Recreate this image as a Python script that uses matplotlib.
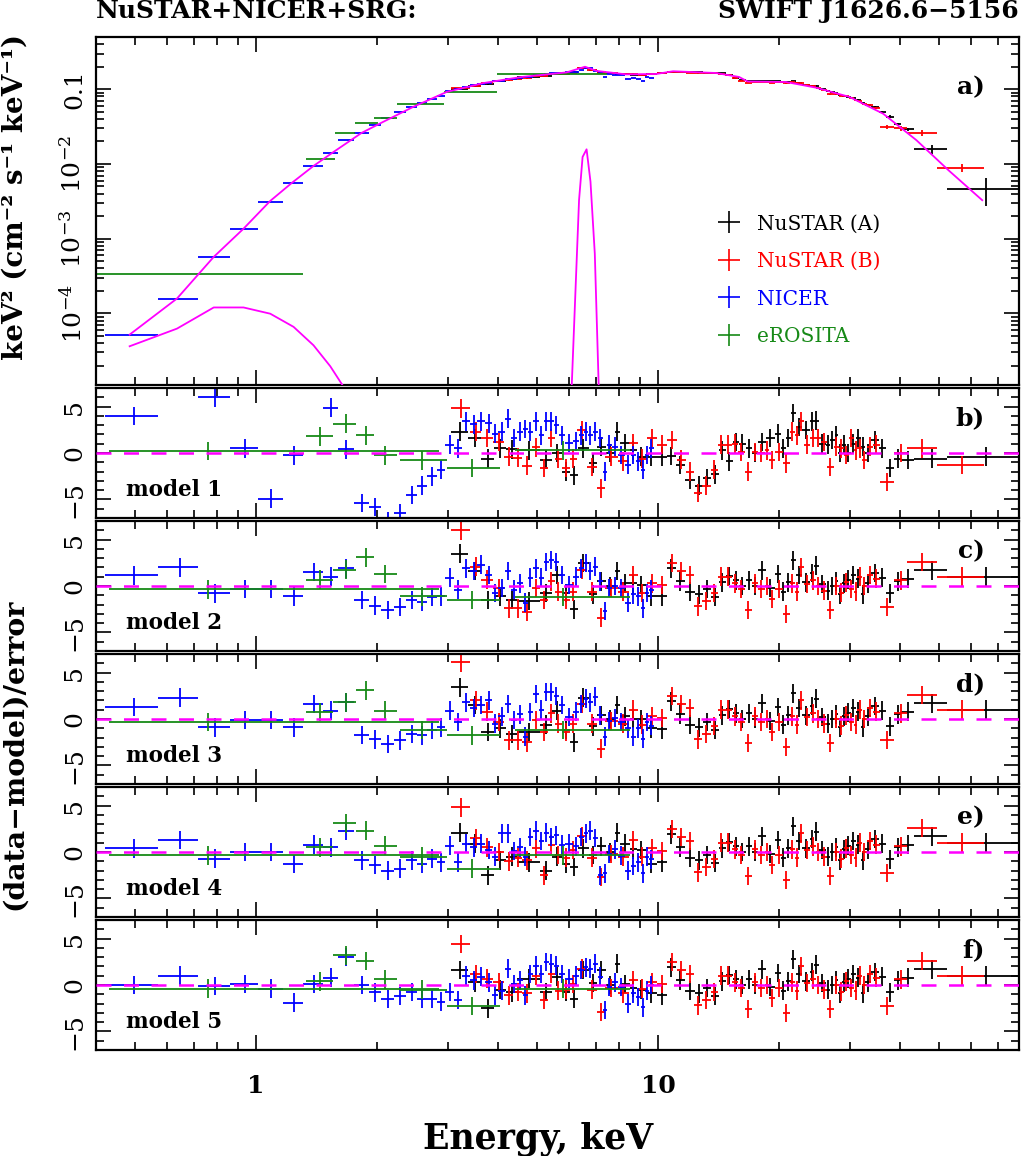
import numpy as np
import matplotlib.pyplot as plt
from matplotlib.lines import Line2D
from matplotlib.ticker import LogLocator, MultipleLocator, NullFormatter, FixedLocator

plt.rcParams['font.family'] = ['DejaVu Serif']
plt.rcParams['mathtext.fontset'] = 'dejavuserif'

# colours of the instruments / model
c_nua = 'black'
c_nub = '#ff0000'
c_nicer = '#0000ff'
c_ero = '#178a17'
c_model = '#ff00ff'

# ------------------------------------------------------------------
# DATA
# ------------------------------------------------------------------

# NICER bin edges (keV)
nicer_edges = [0.422, 0.572, 0.719, 0.863, 1.013, 1.169, 1.311, 1.470, 1.601, 1.755,
               1.912, 2.048, 2.206, 2.362, 2.515, 2.664, 2.821, 2.953, 3.108, 3.254,
               3.407, 3.546, 3.712, 3.863, 3.998, 4.161, 4.307, 4.457, 4.612, 4.746,
               4.885, 5.055, 5.202, 5.352, 5.508, 5.667, 5.866, 6.141, 6.353, 6.538,
               6.689, 6.883, 7.083, 7.291, 7.459, 7.674, 7.943, 8.268, 8.556, 8.804,
               9.058, 9.268, 9.482, 9.757]
# NICER keV^2 flux
nicer_flux = [5.2e-5, 1.58e-4, 5.6e-4, 1.36e-3, 3.07e-3, 5.6e-3, 9.4e-3, 1.42e-2, 2.07e-2, 2.6e-2,
              3.3e-2, 4.13e-2, 4.9e-2, 5.8e-2, 6.5e-2, 7.5e-2, 8.1e-2, 0.095, 0.10, 0.108,
              0.113, 0.118, 0.122, 0.127, 0.13, 0.135, 0.138, 0.142, 0.145, 0.148,
              0.154, 0.155, 0.16, 0.163, 0.165, 0.165, 0.168, 0.172, 0.18, 0.195,
              0.19, 0.178, 0.168, 0.148, 0.16, 0.155, 0.155, 0.138, 0.142, 0.135,
              0.128, 0.148, 0.14]

# NuSTAR FPMA / FPMB bin edges (keV)
nua_edges = [3.055, 3.368, 3.627, 3.907, 4.184, 4.457, 5.084, 5.445, 5.766, 6.036,
             6.318, 6.728, 7.043, 7.416, 7.807, 8.033, 8.505, 8.852, 9.322, 9.93,
             10.51, 11.07, 11.65, 12.34, 12.91, 13.52, 14.15, 14.73, 15.33, 15.87,
             16.51, 17.09, 17.69, 18.52, 19.50, 20.17, 20.76, 21.36, 21.98, 22.75,
             23.81, 24.36, 25.07, 26.09, 26.70, 27.47, 27.95, 28.60, 29.26, 30.11,
             30.98, 31.88, 32.62, 33.76, 35.34, 36.78, 38.72, 40.30, 43.42, 52.44, 78.7]
nub_edges = [3.055, 3.407, 3.627, 3.885, 4.137, 4.356, 4.586, 4.858, 5.084, 5.321,
             5.539, 5.766, 6.036, 6.283, 6.652, 7.043, 7.374, 7.942, 8.458, 8.903,
             9.375, 9.93, 10.51, 11.13, 11.72, 12.27, 12.84, 13.52, 14.07, 14.64,
             15.25, 15.78, 16.42, 17.09, 17.69, 18.41, 18.84, 19.50, 20.40, 21.24,
             21.86, 22.36, 23.01, 23.81, 24.64, 25.36, 26.24, 27.32, 28.11, 28.93,
             29.77, 30.63, 31.33, 32.06, 33.00, 34.15, 35.54, 38.72, 41.48, 49.36, 64.80]

nua_flux = [0.100, 0.110, 0.118, 0.127, 0.135, 0.145, 0.152, 0.158, 0.162, 0.168,
            0.19, 0.18, 0.172, 0.165, 0.162, 0.158, 0.157, 0.157, 0.158, 0.163,
            0.170, 0.172, 0.171, 0.168, 0.167, 0.165, 0.163, 0.155, 0.142, 0.132,
            0.128, 0.127, 0.128, 0.127, 0.127, 0.125, 0.125, 0.128, 0.12, 0.115,
            0.112, 0.11, 0.10, 0.095, 0.092, 0.088, 0.083, 0.081, 0.079, 0.076,
            0.072, 0.066, 0.062, 0.058, 0.05, 0.043, 0.034, 0.029, 0.0158, 0.0046]
nua_ferr = [0.02] * 54 + [0.03, 0.04, 0.05, 0.06, 0.15, 0.4]

nub_flux = [0.103, 0.112, 0.12, 0.128, 0.132, 0.138, 0.142, 0.152, 0.152, 0.16,
            0.158, 0.16, 0.167, 0.19, 0.18, 0.165, 0.163, 0.158, 0.16, 0.156,
            0.16, 0.163, 0.172, 0.17, 0.167, 0.163, 0.163, 0.163, 0.162, 0.155,
            0.143, 0.13, 0.122, 0.126, 0.126, 0.126, 0.123, 0.124, 0.12, 0.126,
            0.122, 0.12, 0.114, 0.11, 0.105, 0.098, 0.085, 0.086, 0.082, 0.08,
            0.077, 0.072, 0.07, 0.064, 0.062, 0.056, 0.031, 0.030, 0.026, 0.0088]
nub_ferr = [0.02] * 56 + [0.06, 0.07, 0.1, 0.12]

# eROSITA (spectrum panel)
ero_lo = [0.38, 1.33, 1.575, 1.765, 1.97, 2.24, 2.93, 3.97]
ero_hi = [1.31, 1.575, 1.765, 2.01, 2.24, 2.93, 3.97, 7.47]
ero_e = [0.758, 1.44, 1.67, 1.88, 2.095, 2.58, 3.45, 5.8]
ero_flux = [3.33e-4, 1.16e-2, 2.63e-2, 3.5e-2, 4.18e-2, 6.3e-2, 0.093, 0.158]
# eROSITA (residual panels)
ero_rlo = [0.43, 1.33, 1.555, 1.77, 1.97, 2.28, 2.98, 4.4]
ero_rhi = [2.85, 1.555, 1.77, 1.97, 2.24, 2.98, 4.04, 8.5]

# total model and two components
model_e = [0.485, 0.636, 0.785, 0.931, 1.085, 1.229, 1.39, 1.56, 1.83, 2.07,
           2.46, 2.98, 3.68, 4.53, 5.92, 6.58, 7.03, 8.33, 9.9, 10.9,
           13.9, 15.9, 16.7, 20.8, 24.7, 29.9, 36.3, 43.9, 52.8, 64.0]
model_f = [5.2e-5, 1.58e-4, 5.7e-4, 1.36e-3, 3.2e-3, 5.6e-3, 9.4e-3, 1.45e-2, 2.6e-2, 3.65e-2,
           5.8e-2, 9.2e-2, 0.121, 0.145, 0.168, 0.2, 0.176, 0.158, 0.16, 0.174,
           0.165, 0.146, 0.127, 0.125, 0.105, 0.079, 0.047, 0.0208, 8.2e-3, 3.27e-3]
soft_e = [0.485, 0.636, 0.785, 0.931, 1.085, 1.24, 1.39, 1.53, 1.64, 1.76]
soft_f = [3.63e-5, 6.25e-5, 1.2e-4, 1.2e-4, 9.9e-5, 6.6e-5, 3.74e-5, 1.96e-5, 1.1e-5, 5e-6]
fe_e = [6.1, 6.36, 6.49, 6.64, 6.79, 6.96, 7.12]
fe_f = [1.1e-5, 3.3e-3, 1.24e-2, 1.57e-2, 5.8e-3, 6.3e-4, 1.0e-5]

# residuals, (data-model)/error, one list per model
nicer_res_b = [4.0, 9.0, 6.0, 0.5, -4.9, -0.25, 9.0, 4.9, 0.4, -5.4,
               -5.8, -7.4, -6.5, -4.5, -3.5, -2.5, -1.8, 0.9, 0.5, 3.4,
               3.1, 3.4, 3.2, 2.1, 2.3, 3.7, 1.6, 2.3, 2.6, 2.3,
               3.4, 1.9, 3.4, 3.4, 3.0, 1.9, 1.1, 1.25, 1.9, 2.3,
               1.9, 2.3, 1.6, -2.0, 0.9, 0.7, -0.2, -1.25, -0.2, -0.9,
               -1.8, -0.2, 0.5]
nicer_res_c = [1.15, 2.0, -0.8, -0.3, -0.3, -1.1, 1.5, 1.0, 1.9, -1.5,
               -2.1, -2.6, -2.25, -1.5, -1.7, -1.2, -1.1, 0.9, -0.4, 1.9,
               1.6, 2.3, 1.2, -0.75, -0.2, 1.6, -0.4, 0.3, -1.8, 0.9,
               1.9, 0.9, 2.6, 2.8, 2.6, 1.2, 0.1, 1.0, 1.9, 2.5,
               1.6, 2.1, 0.5, -2.7, -0.2, 0.0, -0.2, -1.8, -0.9, -1.1,
               -2.4, -0.75, -0.4]
nicer_res_d = [1.3, 2.3, -0.9, -0.1, -0.1, -0.9, 1.6, 0.9, 1.8, -1.7,
               -2.2, -2.7, -2.3, -1.6, -1.75, -1.2, -0.9, 0.9, -0.3, 1.8,
               1.2, 1.5, 2.0, -0.5, 0.3, 1.6, -0.1, 0.5, -1.9, 0.75,
               2.7, 1.0, 2.9, 2.9, 2.5, 1.5, 0.2, 0.8, 1.6, 2.2,
               1.8, 2.4, 0.4, -1.9, -0.2, 0.1, -0.3, -1.0, -1.9, -1.0,
               -2.1, -0.3, -0.7]
nicer_res_e = [0.4, 1.3, -0.7, 0.0, 0.0, -1.3, 0.8, 0.5, 2.25, -0.9,
               -1.4, -2.0, -1.8, -0.9, -1.25, -0.7, -1.1, 0.7, -1.1, 0.9,
               0.5, 0.9, 0.2, -0.5, 2.0, 2.0, 0.1, 0.5, -0.5, 1.6,
               2.3, 1.2, 2.1, 1.6, 1.8, 0.8, 0.9, 0.6, 1.6, 2.0,
               2.3, 1.5, -2.5, -2.3, -0.2, 0.3, -0.4, -2.0, -1.5, -1.1,
               -2.3, -0.5, -0.8]
nicer_res_f = [0.0, 1.0, -0.1, 0.1, -0.4, -1.9, 0.1, 0.8, 3.0, 0.0,
               -0.8, -1.5, -1.2, -0.75, -1.5, -1.5, -1.8, -0.75, -1.6, 1.0,
               0.5, 0.9, 0.3, -1.1, -0.6, 1.75, 0.1, 0.5, -1.1, 1.2,
               2.1, 1.2, 2.5, 2.3, 2.1, 1.2, 0.7, 1.0, 1.6, 1.9,
               1.75, 2.3, 0.9, -2.7, -0.2, 0.3, -0.2, -2.0, -0.9, -1.3,
               -2.4, -0.6, 0.0]

nua_res_b = [2.3, 1.6, -0.6, 0.5, 0.4, 0.3, -0.7, 0.0, -2.0, -2.4,
             0.5, -1.1, 0.7, 0.0, 2.3, 1.1, 0.3, -0.4, -0.4, -0.4,
             -0.3, -1.3, -2.9, -3.5, -2.7, -2.3, 0.3, -0.9, 1.2, 1.0,
             0.5, 0.0, 1.2, 1.6, 2.1, 0.5, 1.6, 4.3, 2.8, 2.5,
             3.4, 3.5, 1.0, 0.9, 1.4, 1.9, 0.0, 0.9, 0.0, 1.0,
             1.6, 0.7, 0.0, 1.4, 0.5, -1.6, -0.6, -0.75, -0.6, -0.4]
nub_res_b = [4.8, 2.3, 1.6, 1.2, -0.4, -0.5, -1.35, 0.6, -1.6, 1.6,
             -0.6, -1.6, -0.6, 2.5, -1.5, -3.8, -0.4, -0.9, 1.1, -0.6,
             1.6, 0.9, 1.4, -0.7, -2.0, -4.3, -3.5, -1.8, 0.9, 0.9,
             1.0, 0.1, -2.0, 0.1, 0.0, 0.3, -0.75, 0.1, -1.1, 2.3,
             1.9, 3.4, 0.9, 1.6, 1.6, 1.2, -1.5, 0.7, 0.5, -0.2,
             1.6, 0.3, 0.5, -0.75, 0.7, 0.9, -3.1, 0.0, 0.5, -1.3]

# models 2-5: below ~10 keV each panel differs, above that they look the same
nua_low_c = [3.5, 1.6, -1.5, -1.1, -1.5, -1.6, -0.75, 1.2, -0.75, -2.5,
             2.5, -0.9, 0.5, 0.0, 1.6, 0.3, 0.3, 0.1, -1.1]
nua_low_d = [3.4, 1.5, -1.4, -1.0, -1.6, -1.4, -0.6, 0.9, -1.2, -2.5,
             2.3, -0.8, 0.4, 0.0, 1.5, 0.3, 0.0, 0.0, -1.0]
nua_low_e = [2.1, 0.9, -2.5, -0.9, -0.5, -1.1, -2.0, -0.5, -1.3, -1.6,
             0.4, -0.3, 0.6, 0.0, 2.1, 0.9, 0.3, 0.2, -1.25]
nua_low_f = [1.6, 0.3, -2.5, -0.5, -0.8, 0.7, -0.75, 0.9, -0.75, -1.5,
             1.6, 0.2, 1.6, 0.0, 2.3, 0.1, -0.3, -0.5, -0.9]
nua_high = [-1.1, 1.9, 0.5, -0.6, -0.9, -0.3, -1.2, 0.4, 1.1, 0.6,
            0.0, 0.6, 0.0, 1.7, -0.2, 1.3, -0.6, 0.4, 2.75, 1.2,
            0.4, 1.4, 2.2, 0.2, -0.5, 0.0, 0.5, -0.9, 0.3, 0.7,
            1.2, 0.8, -0.9, 0.3, 1.4, 0.9, -0.8, 0.5, 0.8, 1.7, 1.0]

nub_low_c = [6.0, 2.1, 0.7, -0.2, -2.4, -2.4, -2.8, -0.2, -1.5, 0.5,
             -0.6, -1.5, -0.6, 1.75, -0.6, -3.4, -0.2, -0.6, 1.2, -0.75, 0.3]
nub_low_d = [6.1, 2.0, 0.8, -0.3, -2.3, -2.3, -2.5, -0.1, -1.4, 0.6,
             -0.5, -1.4, -0.5, 1.6, -0.5, -3.2, -0.2, -0.5, 1.0, -0.6, 0.3]
nub_low_e = [4.8, 1.5, 0.5, 0.0, -1.0, -0.6, -0.9, 0.4, -2.5, 0.8,
             -0.3, -0.6, 0.2, 1.7, -0.6, -2.7, -0.2, -0.5, 1.25, -0.5, 0.4]
nub_low_f = [4.4, 1.2, 0.7, 0.3, -1.1, -0.75, -0.9, 1.0, -1.6, 1.2,
             -0.6, -0.5, 0.1, 1.75, -0.5, -2.9, -0.3, -0.9, 0.5, -0.4, 0.3]
nub_high = [0.1, 2.5, 1.6, 1.2, -2.2, -1.6, -0.75, 1.0, 1.0, 0.3,
            -0.3, -2.6, 0.3, -0.3, 0.0, -1.4, -0.3, -3.0, 0.3, -0.6,
            2.0, 0.2, 0.6, 0.0, -0.5, -2.6, 0.0, -0.7, 0.4, -0.3,
            -0.6, 1.0, 0.0, 1.2, 0.8, -2.25, 0.6, 2.6, 1.0]

ero_res_b = [0.2, 1.8, 3.15, 1.9, -0.25, -0.8, -1.6, 0.3]
ero_res_c = [-0.36, 0.7, 1.75, 3.1, 1.3, -1.1, -1.5, -1.2]
ero_res_d = [-0.3, 0.75, 1.8, 3.1, 0.9, -1.2, -1.75, -1.2]
ero_res_e = [-0.36, 0.5, 3.1, 2.3, 0.7, -0.5, -1.8, -0.36]
ero_res_f = [-0.4, 0.4, 3.2, 2.6, 0.6, -0.5, -2.25, -0.4]

panel_tags = ['b)', 'c)', 'd)', 'e)', 'f)']
model_names = ['model 1', 'model 2', 'model 3', 'model 4', 'model 5']
nua_res = [nua_res_b, nua_low_c + nua_high, nua_low_d + nua_high,
           nua_low_e + nua_high, nua_low_f + nua_high]
nub_res = [nub_res_b, nub_low_c + nub_high, nub_low_d + nub_high,
           nub_low_e + nub_high, nub_low_f + nub_high]
nicer_res = [nicer_res_b, nicer_res_c, nicer_res_d, nicer_res_e, nicer_res_f]
ero_res = [ero_res_b, ero_res_c, ero_res_d, ero_res_e, ero_res_f]


def bins(edges):
    edges = np.asarray(edges)
    lo, hi = edges[:-1], edges[1:]
    return lo, hi, 0.5 * (lo + hi)


def crosses(ax, lo, hi, cen, y, yerr, color, z=2):
    lo, hi, cen = np.asarray(lo), np.asarray(hi), np.asarray(cen)
    ax.errorbar(cen, y, xerr=[cen - lo, hi - cen], yerr=yerr, fmt='none',
                ecolor=color, elinewidth=1.3, capsize=0, zorder=z)


def style_axis(ax):
    ax.set_xscale('log')
    ax.set_xlim(0.4, 79)
    ax.xaxis.set_major_locator(FixedLocator([1, 10]))
    ax.xaxis.set_minor_locator(LogLocator(base=10, subs=np.arange(2, 10), numticks=30))
    ax.xaxis.set_minor_formatter(NullFormatter())
    ax.tick_params(which='both', direction='in', top=True, right=True,
                   width=1.2, labelsize=18, labelbottom=False)
    ax.tick_params(which='major', length=11)
    ax.tick_params(which='minor', length=5.5)
    ax.tick_params(axis='y', pad=7)
    for s in ax.spines.values():
        s.set_linewidth(1.6)


nic_lo, nic_hi, nic_c = bins(nicer_edges)
a_lo, a_hi, a_c = bins(nua_edges)
b_lo, b_hi, b_c = bins(nub_edges)

# ------------------------------------------------------------------
# figure layout in pixels
# ------------------------------------------------------------------
W, H = 1021.0, 1156.0
x0, x1 = 96, 1019


def add_panel(top_px, bot_px):
    return fig.add_axes([x0 / W, 1 - bot_px / H, (x1 - x0) / W, (bot_px - top_px) / H])


fig = plt.figure(figsize=(10.21, 11.56), dpi=100)

# ---- spectrum panel ----
ax = add_panel(37, 385)
style_axis(ax)
ax.set_yscale('log')
ax.set_ylim(1.1e-5, 0.5)
ax.yaxis.set_major_locator(FixedLocator([1e-4, 1e-3, 1e-2, 0.1]))
ax.yaxis.set_minor_locator(LogLocator(base=10, subs=np.arange(2, 10), numticks=30))
ax.yaxis.set_minor_formatter(NullFormatter())
ax.set_yticklabels(['10$^{-4}$', '10$^{-3}$', '10$^{-2}$', '0.1'], rotation=90, va='center')

nua_f = np.asarray(nua_flux)
nub_f = np.asarray(nub_flux)
crosses(ax, a_lo, a_hi, a_c, nua_f, nua_f * np.asarray(nua_ferr), c_nua)
crosses(ax, b_lo, b_hi, b_c, nub_f, nub_f * np.asarray(nub_ferr), c_nub)
crosses(ax, nic_lo, nic_hi, nic_c, nicer_flux, None, c_nicer)
crosses(ax, ero_lo, ero_hi, ero_e, ero_flux, None, c_ero)
ax.plot(model_e, model_f, color=c_model, lw=1.3, zorder=4)
ax.plot(soft_e, soft_f, color=c_model, lw=1.3, zorder=4)
ax.plot(fe_e, fe_f, color=c_model, lw=1.3, zorder=4)

ax.text(0.963, 0.856, 'a)', transform=ax.transAxes, ha='right', va='center',
        fontsize=18, fontweight='bold')

handles = [Line2D([], [], ls='none', marker='+', ms=16, mew=1.2, color=c)
           for c in [c_nua, c_nub, c_nicer, c_ero]]
leg = ax.legend(handles, ['NuSTAR (A)', 'NuSTAR (B)', 'NICER', 'eROSITA'],
                loc='upper left', bbox_to_anchor=(0.675, 0.49), frameon=False,
                fontsize=14.5, handlelength=1.0, handletextpad=0.9,
                labelspacing=0.92, borderpad=0, borderaxespad=0)
for t, c in zip(leg.get_texts(), [c_nua, c_nub, c_nicer, c_ero]):
    t.set_color(c)

# ---- residual panels ----
res_tops = [388, 521, 654, 787, 920]
for i, top in enumerate(res_tops):
    ax = add_panel(top, top + 130)
    style_axis(ax)
    ax.set_ylim(-7, 7)
    ax.set_yticks([-5, 0, 5])
    ax.set_yticklabels(['\u22125', '0', '5'], rotation=90, va='center')
    ax.yaxis.set_minor_locator(MultipleLocator(1))

    crosses(ax, a_lo, a_hi, a_c, nua_res[i], 1.0, c_nua)
    crosses(ax, b_lo, b_hi, b_c, nub_res[i], 1.0, c_nub)
    crosses(ax, nic_lo, nic_hi, nic_c, nicer_res[i], 1.0, c_nicer)
    crosses(ax, ero_rlo, ero_rhi, ero_e, ero_res[i], 1.0, c_ero)
    ax.axhline(0, color=c_model, lw=1.8, ls=(0, (6, 5)), zorder=5)

    ax.text(0.963, 0.77, panel_tags[i], transform=ax.transAxes, ha='right',
            va='center', fontsize=18, fontweight='bold')
    ax.text(0.0325, 0.215, model_names[i], transform=ax.transAxes, ha='left',
            va='center', fontsize=15.5, fontweight='bold')

    if i == len(res_tops) - 1:
        ax.set_xticklabels(['1', '10'], fontweight='bold')
        ax.tick_params(axis='x', labelbottom=True, pad=17)

# ---- labels ----
fig.text(x0 / W, 1 - 18 / H, 'NuSTAR+NICER+SRG:', ha='left', va='baseline',
         fontsize=18, fontweight='bold')
fig.text(x1 / W, 1 - 18 / H, 'SWIFT J1626.6\u22125156', ha='right', va='baseline',
         fontsize=18, fontweight='bold')
fig.text(15 / W, 1 - 197 / H, 'keV\u00b2 (cm\u207b\u00b2 s\u207b\u00b9 keV\u207b\u00b9)',
         rotation=90, ha='center', va='center', fontsize=20, fontweight='bold')
fig.text(15 / W, 1 - 754 / H, '(data\u2212model)/error', rotation=90,
         ha='center', va='center', fontsize=20.5, fontweight='bold')
fig.text(538 / W, 1 - 1148 / H, 'Energy, keV', ha='center', va='baseline',
         fontsize=25, fontweight='bold')

fig.savefig('out.png', dpi=100)
